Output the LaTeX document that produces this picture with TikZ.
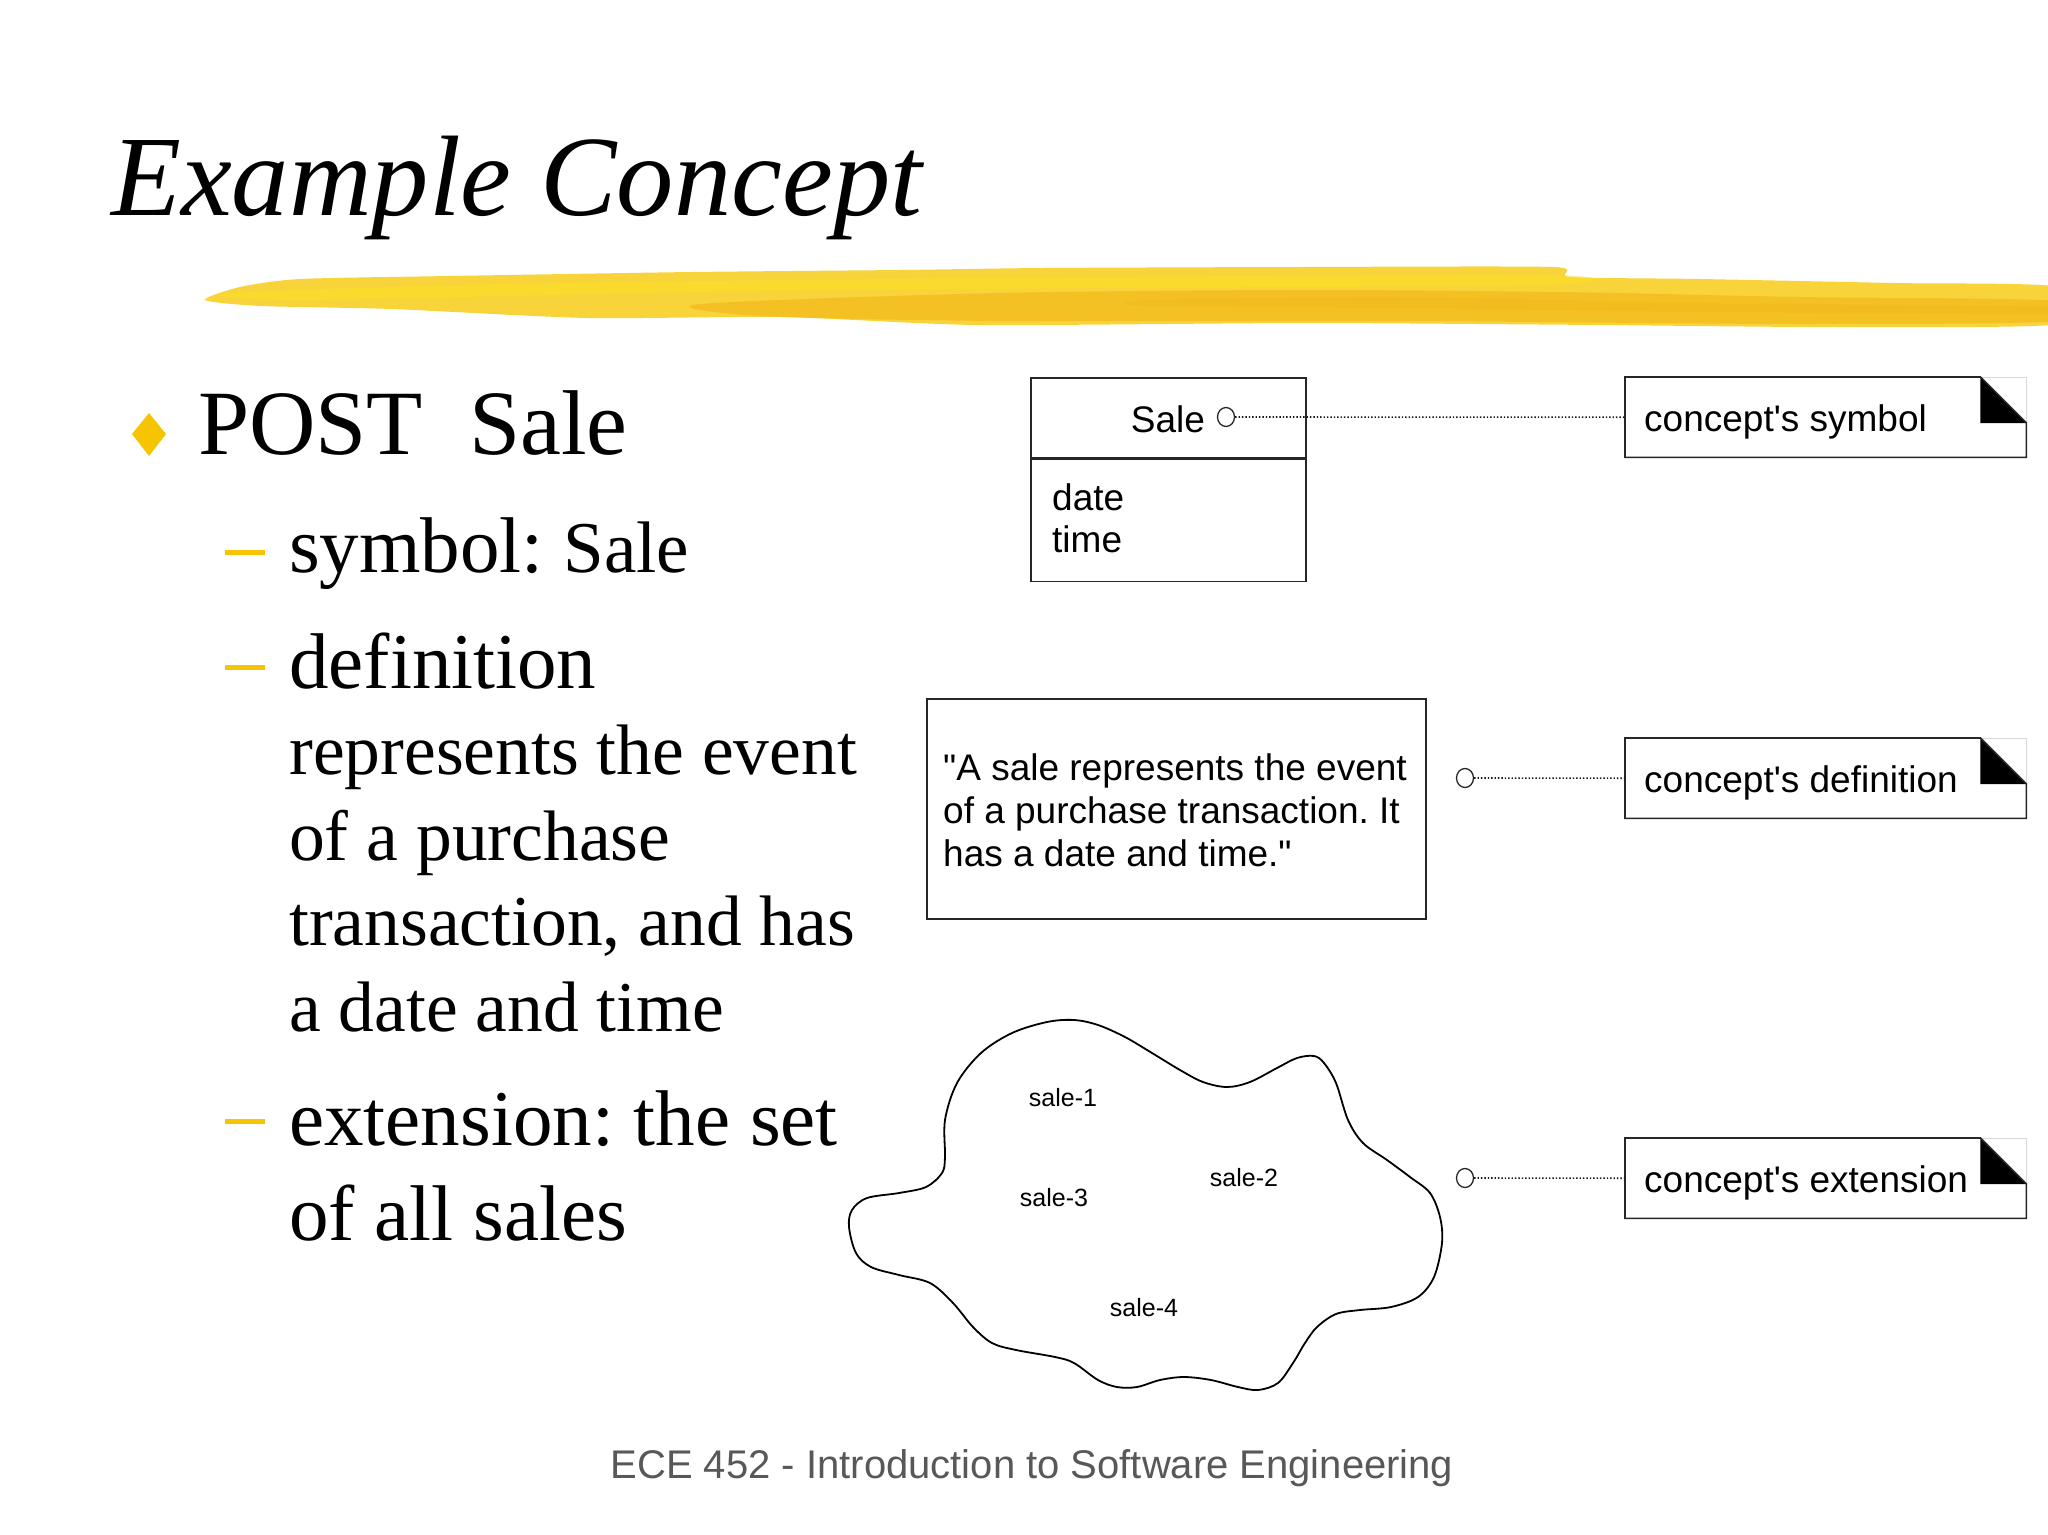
\documentclass[tikz,border=0pt]{standalone}
\usepackage{fontspec}
\usetikzlibrary{shapes.geometric}
\setmainfont{Liberation Serif}
\newfontfamily\arialf[Ligatures=ResetAll]{Liberation Sans}
\definecolor{gold}{RGB}{246,196,0}
\definecolor{brushA}{RGB}{249,211,58}
\definecolor{brushB}{RGB}{240,180,20}
\definecolor{footgray}{RGB}{88,88,88}
\frenchspacing
\begin{document}
\begin{tikzpicture}[x=1pt,y=-1pt,
  txt/.style={inner sep=0pt, anchor=base west},
  uml/.style={font=\arialf\fontsize{37}{43}\selectfont},
  smalllbl/.style={inner sep=0pt, font=\arialf\fontsize{25}{30}\selectfont},
  box/.style={draw=black!85, line width=1.6pt, inner sep=0pt},
  notebox/.style={inner sep=0pt, minimum width=401pt, minimum height=80pt, anchor=north west},
  port/.style={ellipse, draw=black!85, line width=1.3pt, minimum width=17pt, minimum height=19pt, inner sep=0pt, fill=white},
  dotline/.style={draw=black!90, line width=1.6pt, dash pattern=on 1.4pt off 2pt},
  headtxt/.style={txt, font=\fontsize{79}{90}\selectfont},
  subtxt/.style={txt, font=\fontsize{71.5}{86}\selectfont},
  ybar/.style={draw=gold, line width=5pt}
]
\useasboundingbox (0,0) rectangle (2048,1534);
\fill[white] (0,0) rectangle (2048,1534);

% title
\node[txt, font=\fontsize{114.5}{120}\selectfont\itshape] (title) at (111,215) {Example Concept};

% brush stroke
\fill[brushA] plot[smooth cycle, tension=0.4] coordinates {(205,300) (240,287) (300,279) (450,276) (692,272) (900,270) (1044,268) (1300,267) (1553,267) (1570,277) (1700,279) (1893,283) (2060,287) (2060,324) (1828,327) (1600,325) (1305,323) (979,325) (783,317) (587,318) (392,309) (261,306)};
\fill[brushB, opacity=0.55] plot[smooth cycle, tension=0.5] coordinates {(700,304) (1000,293) (1300,290) (1560,292) (1800,297) (2060,301) (2060,321) (1800,324) (1400,321) (1000,321) (760,316)};
\fill[brushB, opacity=0.35] plot[smooth cycle, tension=0.5] coordinates {(1150,300) (1400,297) (1700,303) (2060,307) (2060,314) (1700,312) (1400,308) (1150,306)};
\fill[yellow!50!brushA, opacity=0.5] plot[smooth cycle, tension=0.5] coordinates {(230,293) (500,284) (800,280) (1100,277) (1550,275) (1550,285) (1100,288) (700,292) (300,300)};

% bullets and text
\fill[gold] (149,413) -- (166,434) -- (149,456) -- (132,434) -- cycle;
\node[txt, font=\fontsize{92}{110}\selectfont] (post) at (198,454) {POST\ \ Sale};

\draw[ybar] (225,552) -- (265,552);
\node[headtxt] (sym) at (289,572) {symbol: {\fontsize{73}{86}\selectfont Sale}};
\draw[ybar] (225,667) -- (265,667);
\node[headtxt] (def) at (289,688) {definition};
\node[subtxt] (defa) at (289,774) {represents the event};
\node[subtxt] (defb) at (289,860) {of a purchase};
\node[subtxt] (defc) at (289,945) {transaction, and has};
\node[subtxt] (defd) at (289,1031) {a date and time};
\draw[ybar] (225,1121) -- (265,1121);
\node[headtxt] (ext) at (289,1145) {extension: the set};
\node[headtxt] (exta) at (289,1240) {of all sales};

% Sale class box
\node[box, anchor=north west, minimum width=275pt, minimum height=80pt] (salehead) at (1030,377) {};
\node[box, anchor=north west, minimum width=275pt, minimum height=122pt] (salebody) at (salehead.south west) {};
\node[txt, uml, anchor=base] (salelbl) at (1168,432) {Sale};
\node[txt, uml] (date) at (1052,510) {date};
\node[txt, uml] (time) at (1052,552) {time};
\node[port] (c1) at (1226,417) {};

% definition box
\node[box, anchor=north west, minimum width=499pt, minimum height=220pt] (defbox) at (926,698) {};
\node[txt, uml] (dl1) at (943,780) {"A sale represents the event};
\node[txt, uml] (dl2) at (943,823) {of a purchase transaction. It};
\node[txt, uml] (dl3) at (943,866) {has a date and time."};
\node[port] (c2) at (1465,778) {};

% cloud
\draw[black, line width=1.8pt] plot[smooth cycle, tension=0.55] coordinates {
(945,1157) (945,1120) (957,1083) (981,1053) (1012,1033) (1047,1022) (1074,1020) (1098,1025) (1125,1037) (1152,1053) (1180,1070) (1203,1082) (1227,1087) (1250,1082) (1277,1068) (1297,1058) (1314,1056) (1324,1063) (1336,1083) (1348,1120) (1363,1143) (1387,1160) (1410,1177) (1430,1193) (1440,1217) (1442,1243) (1434,1277) (1418,1297) (1391,1307) (1360,1310) (1336,1314) (1317,1327) (1305,1343) (1293,1363) (1278,1383) (1258,1390) (1238,1387) (1211,1380) (1184,1377) (1160,1380) (1137,1387) (1117,1387) (1098,1380) (1074,1363) (1055,1357) (1016,1350) (992,1343) (973,1327) (953,1303) (930,1283) (899,1275) (871,1267) (856,1253) (849,1227) (852,1210) (867,1198) (899,1193) (926,1187) (942,1173)};
\node[smalllbl] (s1) at (1063,1098) {sale-1};
\node[smalllbl] (s2) at (1244,1178) {sale-2};
\node[smalllbl] (s3) at (1054,1198) {sale-3};
\node[smalllbl] (s4) at (1144,1308) {sale-4};
\node[port] (c3) at (1465,1178) {};

% notes
\node[notebox] (n1) at (1625,377) {};
\node[notebox] (n2) at (1625,738) {};
\node[notebox] (n3) at (1625,1138) {};
\foreach \n in {n1,n2,n3} {
  \draw[black!15, line width=1pt] ([xshift=-46pt]\n.north east) -- (\n.north east) -- ([yshift=-46pt]\n.north east);
  \fill[black] ([xshift=-46pt]\n.north east) -- ([xshift=-46pt,yshift=-46pt]\n.north east) -- ([yshift=-46pt]\n.north east) -- cycle;
  \draw[box] (\n.north west) -- ([xshift=-46pt]\n.north east) -- ([yshift=-46pt]\n.north east) -- (\n.south east) -- (\n.south west) -- cycle;
}
\node[txt, uml] (n1t) at (1644,431) {concept's symbol};
\node[txt, uml] (n2t) at (1644,792) {concept's definition};
\node[txt, uml] (n3t) at (1644,1192) {concept's extension};

% connectors
\draw[dotline] (c1.east) -- (n1.west);
\draw[dotline] (c2.east) -- (n2.west);
\draw[dotline] (c3.east) -- (n3.west);

% footer
\node[txt, anchor=base, font=\arialf\fontsize{40}{48}\selectfont, text=footgray] (foot) at (1032,1478) {ECE 452 - Introduction to Software Engineering};
\end{tikzpicture}
\end{document}
